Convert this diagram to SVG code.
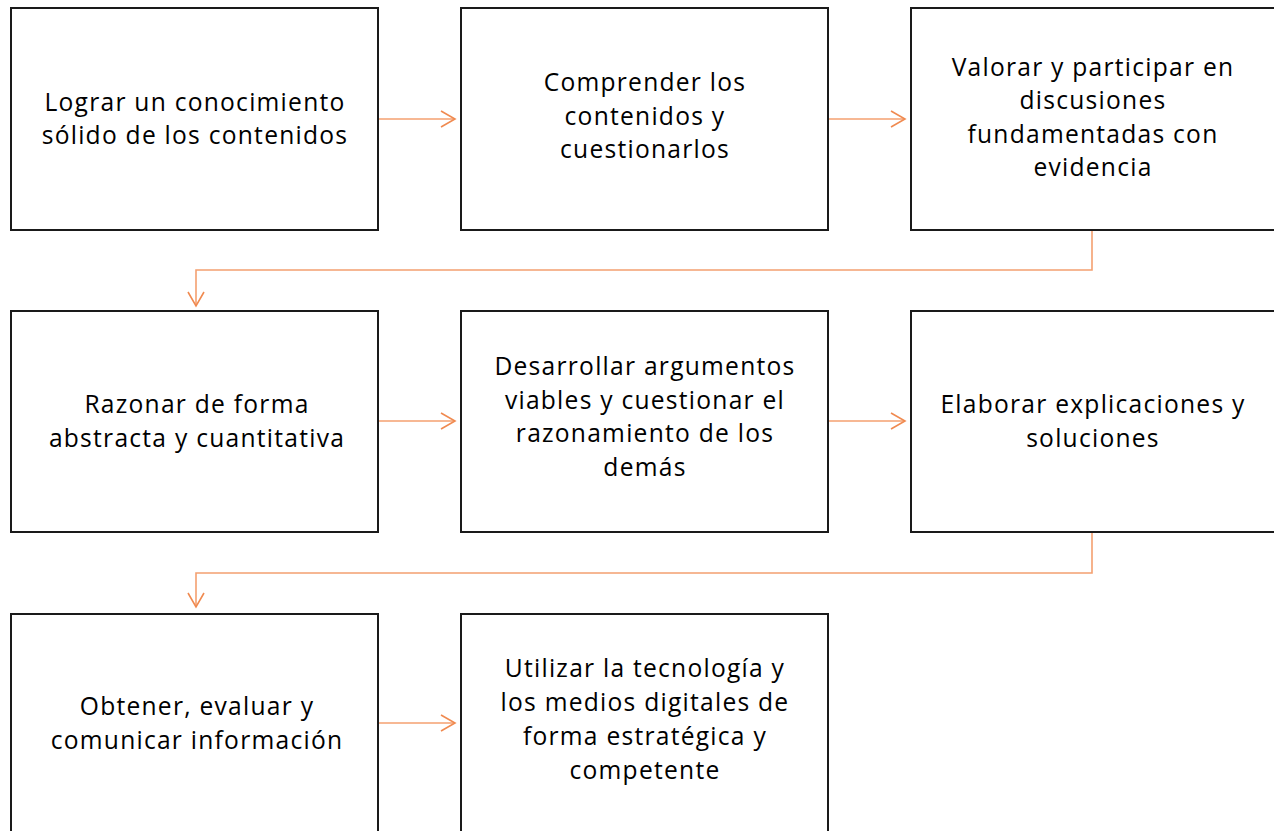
<svg xmlns="http://www.w3.org/2000/svg" width="1274" height="831" viewBox="0 0 1274 831">
<style>
.box{fill:#fff;stroke:#1a1a1a;stroke-width:2}
.t{font-family:"Open Sans","Liberation Sans",sans-serif;font-size:24.6px;letter-spacing:1.25px;fill:#000;text-anchor:middle}
.c{fill:none;stroke:#f4a070;stroke-width:1.6}
</style>
<defs>
<marker id="ah" viewBox="0 0 20 20" refX="18" refY="10" markerWidth="20" markerHeight="20" markerUnits="userSpaceOnUse" orient="auto">
<path d="M4,2 L18,10 L4,18" fill="none" stroke="#f08a50" stroke-width="1.6"/>
</marker>
</defs>
<rect width="1274" height="831" fill="#fff"/>
<g id="n1"><rect class="box" x="11" y="8" width="367" height="222"/>
<text class="t" x="195" y="111">Lograr un conocimiento</text><text class="t" x="195" y="144">sólido de los contenidos</text></g>
<g id="n2"><rect class="box" x="461" y="8" width="367" height="222"/>
<text class="t" x="645" y="91">Comprender los</text><text class="t" x="645" y="125">contenidos y</text><text class="t" x="645" y="158">cuestionarlos</text></g>
<g id="n3"><rect class="box" x="911" y="8" width="370" height="222"/>
<text class="t" x="1093" y="76">Valorar y participar en</text><text class="t" x="1093" y="109">discusiones</text><text class="t" x="1093" y="143">fundamentadas con</text><text class="t" x="1093" y="176">evidencia</text></g>
<g id="n4"><rect class="box" x="11" y="311" width="367" height="221"/>
<text class="t" x="197" y="413">Razonar de forma</text><text class="t" x="197" y="447">abstracta y cuantitativa</text></g>
<g id="n5"><rect class="box" x="461" y="311" width="367" height="221"/>
<text class="t" x="645" y="375">Desarrollar argumentos</text><text class="t" x="645" y="409">viables y cuestionar el</text><text class="t" x="645" y="442">razonamiento de los</text><text class="t" x="645" y="476">demás</text></g>
<g id="n6"><rect class="box" x="911" y="311" width="370" height="221"/>
<text class="t" x="1093" y="413">Elaborar explicaciones y</text><text class="t" x="1093" y="447">soluciones</text></g>
<g id="n7"><rect class="box" x="11" y="614" width="367" height="230"/>
<text class="t" x="197" y="715">Obtener, evaluar y</text><text class="t" x="197" y="749">comunicar información</text></g>
<g id="n8"><rect class="box" x="461" y="614" width="367" height="230"/>
<text class="t" x="645" y="677">Utilizar la tecnología y</text><text class="t" x="645" y="711">los medios digitales de</text><text class="t" x="645" y="745">forma estratégica y</text><text class="t" x="645" y="779">competente</text></g>
<g id="connectors">
<path class="c" d="M379,119 H455" marker-end="url(#ah)"/>
<path class="c" d="M829,119 H905" marker-end="url(#ah)"/>
<path class="c" d="M1092,231 V270 H196 V306" marker-end="url(#ah)"/>
<path class="c" d="M379,421 H455" marker-end="url(#ah)"/>
<path class="c" d="M829,421 H905" marker-end="url(#ah)"/>
<path class="c" d="M1092,533 V573 H196 V607" marker-end="url(#ah)"/>
<path class="c" d="M379,723 H455" marker-end="url(#ah)"/>
</g>
</svg>
